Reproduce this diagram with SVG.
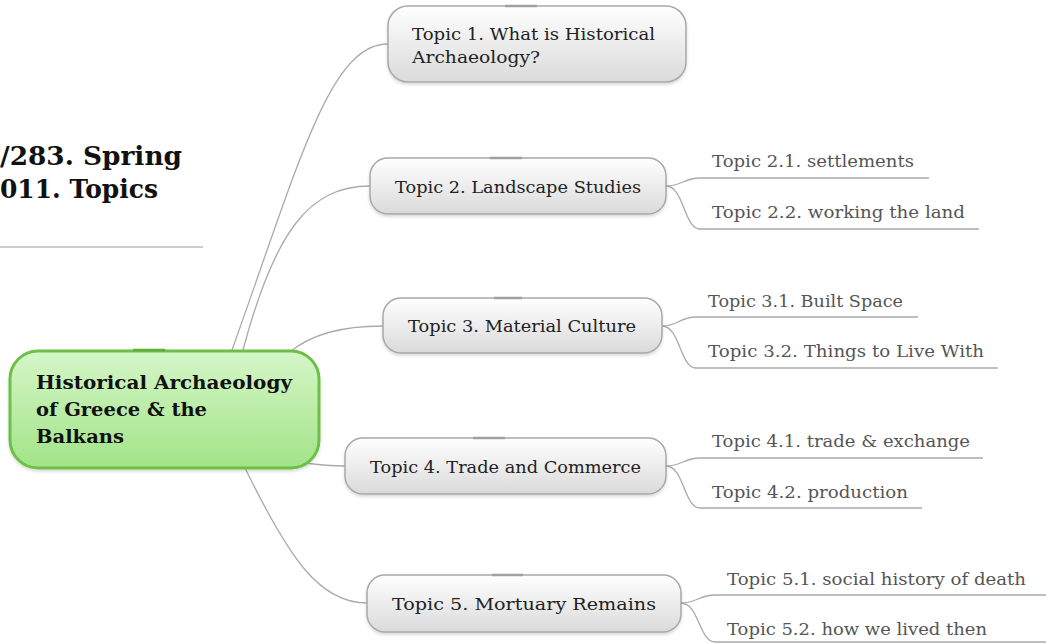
<svg xmlns="http://www.w3.org/2000/svg" width="1046" height="644" viewBox="0 0 1046 644">
<style>
.conn{fill:none;stroke:#aaaaaa;stroke-width:1.3}
.topic{fill:url(#gray);stroke:#a8a8a8;stroke-width:1.5}
.tab{stroke:#a0a0a0;stroke-width:2.5}
text{font-family:"DejaVu Serif","Liberation Serif",serif}
.tt{font-size:17px;fill:#222}
.st{font-size:16.5px;fill:#555}
.ct{font-size:19px;font-weight:bold;fill:#111}
.title{font-size:26px;font-weight:bold;fill:#111}
</style>
<defs>
<linearGradient id="gray" x1="0" y1="0" x2="0" y2="1">
<stop offset="0" stop-color="#ffffff"/>
<stop offset="1" stop-color="#dadada"/>
</linearGradient>
<linearGradient id="green" x1="0" y1="0" x2="0" y2="1">
<stop offset="0" stop-color="#d5f6c8"/>
<stop offset="1" stop-color="#a2e487"/>
</linearGradient>
<filter id="sh" x="-10%" y="-20%" width="120%" height="150%">
<feDropShadow dx="0" dy="2" stdDeviation="1.5" flood-color="#000" flood-opacity="0.15"/>
</filter>
</defs>
<rect width="1046" height="644" fill="#ffffff"/>

<g id="title">
<text class="title" x="0" y="165" textLength="182" lengthAdjust="spacingAndGlyphs">/283. Spring</text>
<text class="title" x="0" y="198" textLength="158" lengthAdjust="spacingAndGlyphs">011. Topics</text>
<line x1="0" y1="247" x2="203" y2="247" stroke="#bbbbbb" stroke-width="1.3"/>
</g>

<g id="connectors">
<path class="conn" d="M232,350 C300,160 330,44 388,44"/>
<path class="conn" d="M243,350 C275,230 310,186 370,186"/>
<path class="conn" d="M290,352 C310,335 340,326 383,326"/>
<path class="conn" d="M305,463 C320,465 330,466 345,466"/>
<path class="conn" d="M245,468 C290,560 320,603 367,603"/>
<path class="conn" d="M666,186 C682,186 684,178 700,178 L929,178"/>
<path class="conn" d="M666,186 C684,186 684,229 700,229 L979,229"/>
<path class="conn" d="M662,326 C678,326 680,317 696,317 L918,317"/>
<path class="conn" d="M662,326 C680,326 680,368 696,368 L998,368"/>
<path class="conn" d="M666,466 C682,466 684,458 700,458 L983,458"/>
<path class="conn" d="M666,466 C684,466 684,508 700,508 L922,508"/>
<path class="conn" d="M681,603 C697,603 699,595 715,595 L1046,595"/>
<path class="conn" d="M681,603 C699,603 699,642 715,642 L1046,642"/>
</g>

<g id="central">
<rect x="10" y="351" width="309" height="117" rx="28" fill="url(#green)" stroke="#6dbf46" stroke-width="3" filter="url(#sh)"/>
<line x1="133" y1="350" x2="165" y2="350" stroke="#5fae3a" stroke-width="2.5"/>
<text class="ct" x="36" y="389" textLength="256" lengthAdjust="spacingAndGlyphs">Historical Archaeology</text>
<text class="ct" x="36" y="416" textLength="171" lengthAdjust="spacingAndGlyphs">of Greece &amp; the</text>
<text class="ct" x="36" y="443" textLength="88" lengthAdjust="spacingAndGlyphs">Balkans</text>
</g>

<g id="topic1">
<rect class="topic" x="388" y="6" width="298" height="76" rx="20" filter="url(#sh)"/>
<line class="tab" x1="505" y1="6" x2="537" y2="6"/>
<text class="tt" x="412" y="40" textLength="243" lengthAdjust="spacingAndGlyphs">Topic 1. What is Historical</text>
<text class="tt" x="412" y="63" textLength="128" lengthAdjust="spacingAndGlyphs">Archaeology?</text>
</g>

<g id="topic2">
<rect class="topic" x="370" y="158" width="296" height="56" rx="18" filter="url(#sh)"/>
<line class="tab" x1="490" y1="158" x2="522" y2="158"/>
<text class="tt" x="395" y="193" textLength="246" lengthAdjust="spacingAndGlyphs">Topic 2. Landscape Studies</text>
</g>
<g id="topic2-1"><text class="st" x="712" y="167" textLength="202" lengthAdjust="spacingAndGlyphs">Topic 2.1. settlements</text></g>
<g id="topic2-2"><text class="st" x="712" y="218" textLength="253" lengthAdjust="spacingAndGlyphs">Topic 2.2. working the land</text></g>

<g id="topic3">
<rect class="topic" x="383" y="298" width="279" height="55" rx="18" filter="url(#sh)"/>
<line class="tab" x1="494" y1="298" x2="522" y2="298"/>
<text class="tt" x="408" y="332" textLength="228" lengthAdjust="spacingAndGlyphs">Topic 3. Material Culture</text>
</g>
<g id="topic3-1"><text class="st" x="708" y="307" textLength="195" lengthAdjust="spacingAndGlyphs">Topic 3.1. Built Space</text></g>
<g id="topic3-2"><text class="st" x="708" y="357" textLength="276" lengthAdjust="spacingAndGlyphs">Topic 3.2. Things to Live With</text></g>

<g id="topic4">
<rect class="topic" x="345" y="438" width="321" height="56" rx="18" filter="url(#sh)"/>
<line class="tab" x1="473" y1="438" x2="505" y2="438"/>
<text class="tt" x="370" y="473" textLength="271" lengthAdjust="spacingAndGlyphs">Topic 4. Trade and Commerce</text>
</g>
<g id="topic4-1"><text class="st" x="712" y="447" textLength="258" lengthAdjust="spacingAndGlyphs">Topic 4.1. trade &amp; exchange</text></g>
<g id="topic4-2"><text class="st" x="712" y="498" textLength="196" lengthAdjust="spacingAndGlyphs">Topic 4.2. production</text></g>

<g id="topic5">
<rect class="topic" x="367" y="575" width="314" height="57" rx="18" filter="url(#sh)"/>
<line class="tab" x1="492" y1="575" x2="523" y2="575"/>
<text class="tt" x="392" y="610" textLength="264" lengthAdjust="spacingAndGlyphs">Topic 5. Mortuary Remains</text>
</g>
<g id="topic5-1"><text class="st" x="727" y="585" textLength="299" lengthAdjust="spacingAndGlyphs">Topic 5.1. social history of death</text></g>
<g id="topic5-2"><text class="st" x="727" y="635" textLength="260" lengthAdjust="spacingAndGlyphs">Topic 5.2. how we lived then</text></g>
</svg>
